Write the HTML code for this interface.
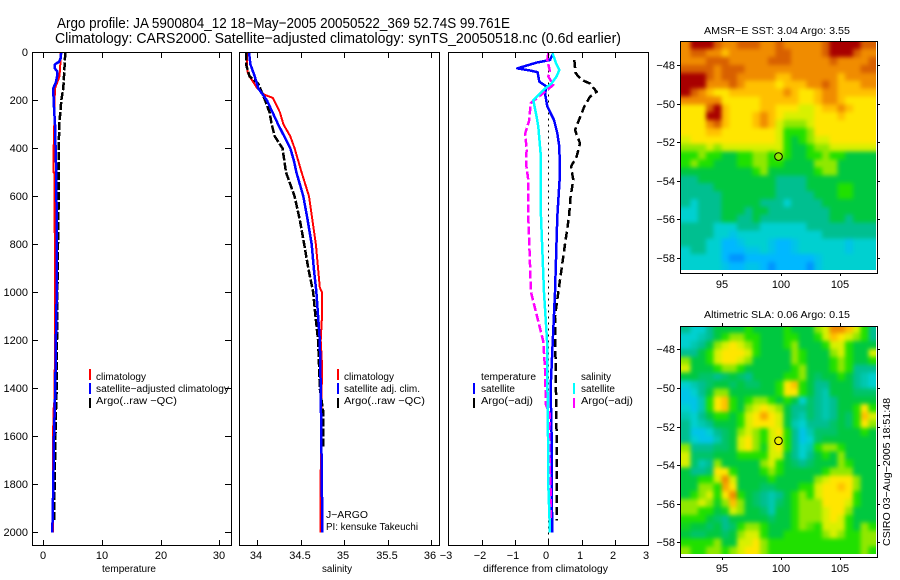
<!DOCTYPE html>
<html lang="en">
<head>
<meta charset="utf-8">
<title>Argo profile 5900804_12</title>
<style>
html,body{margin:0;padding:0;background:#fff;}
svg{display:block;font-family:"Liberation Sans",sans-serif;fill:#000;}
text{fill:#000;}
</style>
</head>
<body>
<svg id="chart" xmlns="http://www.w3.org/2000/svg" width="900" height="580" viewBox="0 0 900 580">
<defs>
<filter id="smooth" x="-5%" y="-5%" width="110%" height="110%" color-interpolation-filters="sRGB">
<feGaussianBlur stdDeviation="2.2"/>
<feComponentTransfer><feFuncA type="linear" slope="30" intercept="0"/></feComponentTransfer>
</filter>
<clipPath id="sst-clip"><rect x="680" y="41" width="196" height="229"/></clipPath>
<clipPath id="sla-clip"><rect x="680" y="326" width="196" height="228"/></clipPath>
</defs>
<rect x="0" y="0" width="900" height="580" fill="#fff"/>
<text x="57" y="28" font-size="15" textLength="453" lengthAdjust="spacingAndGlyphs">Argo profile: JA 5900804_12 18−May−2005 20050522_369 52.74S 99.761E</text>
<text x="55" y="43" font-size="15" textLength="566" lengthAdjust="spacingAndGlyphs">Climatology: CARS2000. Satellite−adjusted climatology: synTS_20050518.nc (0.6d earlier)</text>

<g id="panels"></g>
<g id="maps"></g>

<text x="102" y="572" font-size="10" textLength="54" lengthAdjust="spacingAndGlyphs">temperature</text>
<text x="322" y="572" font-size="10" textLength="30" lengthAdjust="spacingAndGlyphs">salinity</text>
<text x="483" y="572" font-size="10" textLength="125" lengthAdjust="spacingAndGlyphs">difference from climatology</text>

<g>
<rect x="89" y="369" width="2" height="11" fill="#f00"/>
<rect x="89" y="383" width="2" height="11" fill="#00f"/>
<rect x="89" y="398" width="2" height="10" fill="#000"/>
<text x="96" y="380" font-size="10" textLength="50" lengthAdjust="spacingAndGlyphs">climatology</text>
<text x="96" y="392" font-size="10" textLength="133" lengthAdjust="spacingAndGlyphs">satellite−adjusted climatology</text>
<text x="96" y="404" font-size="10" textLength="81" lengthAdjust="spacingAndGlyphs">Argo(..raw −QC)</text>
</g>
<g>
<rect x="337" y="369" width="2" height="11" fill="#f00"/>
<rect x="337" y="383" width="2" height="11" fill="#00f"/>
<rect x="337" y="398" width="2" height="10" fill="#000"/>
<text x="344" y="380" font-size="10" textLength="50" lengthAdjust="spacingAndGlyphs">climatology</text>
<text x="344" y="392" font-size="10" textLength="76" lengthAdjust="spacingAndGlyphs">satellite adj. clim.</text>
<text x="344" y="404" font-size="10" textLength="81" lengthAdjust="spacingAndGlyphs">Argo(..raw −QC)</text>
<text x="326" y="518" font-size="10" textLength="42" lengthAdjust="spacingAndGlyphs">J−ARGO</text>
<text x="326" y="530" font-size="10" textLength="92" lengthAdjust="spacingAndGlyphs">PI: kensuke Takeuchi</text>
</g>
<g>
<text x="481" y="380" font-size="10" textLength="55" lengthAdjust="spacingAndGlyphs">temperature</text>
<rect x="473" y="383" width="2" height="11" fill="#00f"/>
<text x="481" y="392" font-size="10" textLength="34" lengthAdjust="spacingAndGlyphs">satellite</text>
<rect x="473" y="398" width="2" height="10" fill="#000"/>
<text x="481" y="404" font-size="10" textLength="52" lengthAdjust="spacingAndGlyphs">Argo(−adj)</text>
<text x="581" y="380" font-size="10" textLength="30" lengthAdjust="spacingAndGlyphs">salinity</text>
<rect x="573" y="383" width="2" height="11" fill="#0ff"/>
<text x="581" y="392" font-size="10" textLength="34" lengthAdjust="spacingAndGlyphs">satellite</text>
<rect x="573" y="398" width="2" height="10" fill="#f0f"/>
<text x="581" y="404" font-size="10" textLength="52" lengthAdjust="spacingAndGlyphs">Argo(−adj)</text>
</g>

<text x="704" y="34" font-size="10.5" textLength="146" lengthAdjust="spacingAndGlyphs">AMSR−E SST: 3.04 Argo: 3.55</text>
<text x="704" y="318" font-size="10.5" textLength="146" lengthAdjust="spacingAndGlyphs">Altimetric SLA: 0.06 Argo: 0.15</text>
<text transform="translate(890,546) rotate(-90)" x="0" y="0" font-size="10.5" textLength="148" lengthAdjust="spacingAndGlyphs">CSIRO 03−Aug−2005 18:51:48</text>
</svg>

<script>
// Depth ticks and labels
const depthTicks = [0, 200, 400, 600, 800, 1000, 1200, 1400, 1600, 1800, 2000];
const tempTicks = [0, 10, 20, 30];
const salTicks = [34, 34.5, 35, 35.5, 36];
const salTickLabels = ['34', '34.5', '35', '35.5', '36'];
const diffTicks = [-3, -2, -1, 0, 1, 2, 3];

// Temperature panel
const tempClimDepth = [0, 50, 100, 140, 150, 200, 300, 350, 500, 501, 1000, 1300, 1450, 1500, 1900, 2000];
const tempClimValues = [3.0, 2.95, 2.8, 2.2, 2.05, 1.98, 1.93, 1.85, 1.76, 1.95, 2.04, 2.0, 1.95, 1.76, 1.7, 1.68];
const tempSatDepth = [0, 25, 40, 50, 65, 80, 100, 125, 150, 200, 300, 400, 500, 800, 1000, 1200, 1400, 1600, 1800, 2000];
const tempSatValues = [3.1, 3.0, 2.7, 2.05, 1.95, 2.44, 2.4, 2.2, 1.76, 1.8, 2.04, 2.15, 2.27, 2.35, 2.33, 2.2, 2.1, 1.87, 1.76, 1.58];
const tempArgoDepth = [0, 100, 150, 200, 300, 400, 600, 800, 1000, 1200, 1400, 1500, 1700, 1950];
const tempArgoValues = [3.8, 3.58, 3.45, 3.12, 2.78, 2.67, 2.67, 2.55, 2.45, 2.38, 2.33, 2.2, 2.04, 1.87];

// Salinity panel
const salClimDepth = [0, 80, 100, 150, 175, 190, 250, 300, 350, 400, 500, 600, 800, 980, 1000, 1100, 1200, 1300, 1900, 2000];
const salClimValues = [33.88, 33.885, 33.91, 34.0, 34.07, 34.18, 34.26, 34.3, 34.38, 34.43, 34.51, 34.595, 34.675, 34.72, 34.745, 34.745, 34.73, 34.745, 34.725, 34.725];
const salSatDepth = [0, 50, 100, 150, 200, 300, 400, 450, 500, 600, 700, 800, 900, 1000, 1100, 1200, 1400, 1700, 2000];
const salSatValues = [33.905, 33.92, 33.97, 34.01, 34.11, 34.24, 34.38, 34.42, 34.45, 34.53, 34.58, 34.626, 34.65, 34.68, 34.7, 34.72, 34.73, 34.74, 34.75];
const salArgoDepth = [0, 50, 100, 130, 200, 250, 300, 350, 400, 500, 600, 700, 800, 900, 1000, 1100, 1200, 1300, 1400, 1500, 1650];
const salArgoValues = [33.87, 33.87, 33.91, 34.01, 34.09, 34.14, 34.166, 34.2, 34.29, 34.33, 34.43, 34.49, 34.54, 34.587, 34.644, 34.67, 34.7, 34.71, 34.72, 34.76, 34.76];

// Difference panel
const zeroLineDepth = [0, 2050];
const zeroLineValues = [0, 0];
const diffTempSatDepth = [4, 32, 43, 67, 76, 83, 122, 143, 171, 226, 282, 337, 393, 504, 685, 1000, 1400, 1600, 1800, 2000];
const diffTempSatValues = [0.15, 0.05, -0.35, -0.93, -0.55, -0.32, -0.27, -0.05, -0.1, -0.03, 0.17, 0.27, 0.33, 0.35, 0.27, 0.2, 0.07, 0.1, 0.1, 0.12];
const diffTempArgoDepth = [32, 87, 115, 130, 164, 185, 226, 289, 324, 379, 435, 476, 532, 601, 685, 800, 1000, 1100, 1300, 1500, 1600, 1950];
const diffTempArgoValues = [0.78, 0.82, 1.0, 1.25, 1.45, 1.25, 1.08, 0.9, 0.8, 0.95, 0.85, 0.68, 0.75, 0.67, 0.62, 0.5, 0.3, 0.2, 0.22, 0.24, 0.25, 0.25];
const diffSalSatDepth = [4, 46, 73, 101, 129, 157, 199, 268, 310, 421, 685, 1000, 1200, 1337, 1600, 1800, 2000];
const diffSalSatValues = [0.13, 0.23, 0.33, 0.25, 0.1, -0.15, -0.45, -0.35, -0.3, -0.23, -0.22, -0.13, -0.04, -0.03, -0.01, 0, 0.05];
const diffSalArgoDepth = [4, 32, 80, 101, 136, 164, 212, 282, 337, 407, 462, 532, 685, 1000, 1205, 1320, 1470, 1505, 1665, 1830, 1950];
const diffSalArgoValues = [0, -0.03, 0.05, 0, 0.15, -0.1, -0.53, -0.57, -0.69, -0.65, -0.67, -0.6, -0.6, -0.52, -0.15, -0.1, -0.07, 0.04, 0.03, 0.07, 0.07];

// Maps: colour-scale level per cell, north to south
const lonTicks = [95, 100, 105];
const latTicks = [-48, -50, -52, -54, -56, -58];
const argoLon = [99.76];
const argoLat = [-52.74];
const sstGrid = [
[10,12,12,12,11,10,10,11,11,11,10,10,11,10,10,10,10,10,11,12,12,12,12,11,11],
[10,11,11,10,10,9,10,10,10,10,10,10,11,11,10,10,10,10,11,12,12,12,11,10,10],
[10,10,10,11,11,11,10,10,10,10,10,11,11,11,10,10,10,10,10,11,10,10,10,10,11],
[11,11,11,11,10,11,11,11,10,10,10,10,10,10,10,10,10,10,10,10,10,10,10,11,11],
[12,12,12,11,10,11,11,10,10,10,10,10,9,9,10,10,10,10,10,10,9,10,10,10,10],
[12,12,12,10,10,10,11,10,9,9,9,9,8,9,9,9,10,10,11,10,9,9,9,10,10],
[12,11,10,9,8,8,9,9,9,9,9,9,9,10,9,8,8,9,10,10,9,9,9,9,9],
[10,10,10,10,10,8,8,8,8,8,9,9,9,9,9,8,8,9,10,10,9,8,8,8,8],
[8,8,8,11,12,9,8,8,8,8,9,9,8,8,8,7,7,8,9,9,10,9,8,8,8],
[8,8,8,12,12,9,8,8,8,9,10,9,8,7,7,7,7,8,8,8,9,8,8,8,8],
[8,8,8,10,11,9,8,8,8,9,10,9,7,6,6,6,7,8,8,8,8,8,8,8,8],
[8,8,8,9,9,8,8,8,8,8,8,8,7,5,5,5,6,8,8,8,8,8,8,8,8],
[7,8,8,8,8,8,8,8,8,8,8,8,7,5,4,5,6,7,7,8,8,8,8,8,8],
[6,6,6,7,6,7,7,7,7,7,7,7,7,5,4,4,5,6,6,7,7,7,7,7,7],
[5,5,6,5,5,4,4,5,5,6,6,5,6,5,4,4,5,5,6,5,5,4,4,4,4],
[5,6,5,5,4,4,4,5,5,6,6,5,5,4,4,4,4,6,6,6,4,4,4,4,4],
[4,4,4,4,4,4,4,4,4,5,6,4,4,4,4,4,4,5,6,6,4,4,4,4,4],
[3,3,4,4,4,4,4,4,4,4,4,4,3,3,3,3,4,4,4,4,4,4,4,4,4],
[3,3,3,3,4,4,4,4,4,4,4,4,3,3,3,3,4,4,4,4,5,5,4,4,4],
[3,3,3,3,3,4,4,4,4,4,4,4,3,3,3,3,3,4,4,4,5,5,4,4,4],
[3,2,3,3,3,4,4,4,4,4,3,3,3,2,3,3,3,3,4,4,4,4,4,4,4],
[2,2,3,3,3,4,4,4,3,4,4,3,3,3,3,3,3,3,3,4,4,4,4,4,4],
[2,2,3,3,3,4,4,3,3,4,3,3,3,3,3,3,3,3,3,4,4,3,4,4,4],
[3,3,3,3,2,2,2,3,3,3,2,2,2,2,2,2,3,3,3,3,3,3,3,3,3],
[3,3,3,3,2,2,1.5,2,2,2,2,2,2,2,2,2,2,2,3,3,3,3,3,3,3],
[3,3,3,2,2,1,1,1.5,2,2,2,1.5,1,1,1.5,2,2,2,2,2,2,1.5,2,2,2],
[2,3,3,2,2,1,1,1,1.5,1.5,2,1.5,1,1,1.5,2,2,2,2,2,2,1.5,2,2,2],
[2,2,2,2,2,1,0.5,0.5,1,1,1,1,1,1,1,1,1,1.5,2,2,2,2,2,2,2],
[2,2,2,2,2,1.5,1,1,1.5,1.5,1,0.5,1,1,1,1,0.5,1.5,2,2,2,2,2,2,2]
];
const slaGrid = [
[3,2,2,3,4,4,4,4,5,4,4,4,4,5,4,4,4,6,7,10,10,9,7,5,3],
[2,2,2.5,3,4,5,6,6,5,5,4,4,4,5,5,4,4,5,7,9,8,7,6,5,3],
[2,2.5,3,4,6,7,8,7,6,5,4,4,4,5,6,4,4,4,5,7,7,5,4,4,4],
[3,3,4,5,7,8,8,8,7,5,4,4,4,4,6,5,4,4,4,6,7,5,4,4,7],
[6,4,4,5,7,8,8,7,6,4,4,4,4,4,6,5,4,4,4,5,6,5,4,4,5],
[7,4,4,4,5,6,6,5,4,4,4,4,4,4,5,6,4,4,4,5,6,5,3,3,3],
[4,4,3.5,3.5,3,3.5,4,3.5,3,4,4,4,4,5,5,6,4,3.5,4,4,5,4,3,2.5,2],
[2,2.5,3,3.5,4,4,3.5,4,3.5,3.5,4,4,5,8,9,5,4,3,3,4,4,4,3,2.5,2],
[1.5,2,3,4,6,6,4,4,4,4,4,4,5,8,8,5,4,3,2.5,4,4,4,3.5,3.5,3.5],
[1.5,1.5,2.5,5,8,9,5,4,5,6,6,5,4,5,4,2,3.5,3,2.5,3,4,4,4,4,4],
[2,1.5,2.5,5,8,9,5,4,6,7,8,7,6,4,3,3,3.5,3,2.5,3,4,4,5,8,5],
[2.5,2,3,4,5,5,4,5,7,8,9.5,8,7,4,3,2.5,3.5,3,2.5,3,4,3.5,5,9,7],
[3,2,2.5,3,4,4,4,5,7,8,8,8,7,4,2.5,2,3,3,3,3.5,4,3.5,5,8,6],
[3,1.5,1.5,2,3,3.5,4,6,7,6,5,7,8,5,3,1.5,2.5,3.5,3.5,3.5,4,4,4,5,4],
[3,2,1.5,1.5,2.5,3.5,4,7,8,6,5,7,7,5,3,1.5,2,3.5,4,4,4,4,4,4,4],
[6,3,3,3,3.5,3.5,4,7,8,6,4.5,7,8,5,3,2,2.5,5,6,6,5,4,4,4,4],
[7,3.5,3.5,3.5,4,4,4,5,5,5,5,7,7,4,3,2,3,4,5,4,6,4,4,4,4],
[7,3.5,2.5,3,6,4,4,4,4,4,6,7,5,4,3.5,3,3.5,4,4,4,6,5,4,4,4],
[4,3,3,3.5,8,8,5,4,4,4,5,6,5,4,4,4,4,4,5,6,6,6,4,4,4],
[4,4,5,5,7,10,7,4,4,4,4,5,4,4,4,4,4,6,7,8,8,8,6,4,4],
[4,4,6,6,5,9.5,8,4,4,4,3.5,3.5,4,4,4,5,5,7,8,8,9,8,6,4,4],
[4,5,6,7,5,8,10,5,4,3.5,3,2.5,3,4,5,6,5,7,8,8,8,8,5,4,4],
[6,6,7,6,4.5,6,9,6,4,3.5,3,2.5,3.5,4,5,6,6,6,8,8,8,7,5,4,4],
[6,6,5,5,4,4.5,7,6,4,4,3.5,2.5,4,4,5,6,6,6,7,8,8,6,4,4,4],
[5,5,5,4,3.5,3,4,4,4,4,4,3.5,4,4,5,6,6,6,7,8,7,5,4,4,4],
[4.5,4,4,3.5,4,3,3.5,5,6,6,5,4,4,4,5,6,5.5,5,7,7,7,5,4,6,5],
[4,3.5,3.5,4,4,3.5,4,6,7,7,5,4,4,5,5,5,5,5,6,7,6,5,5,6,6],
[5,5,5,5,6,4,4,7,7,8,6,5,5,5,5,5,5,5,5,5,5,5,5,6,6],
[6,5,5,6,6,5,6,7,8,8,6,5,5,5,5,5,5,5,5,5,5,5,5,6,5]
];
const colorStops = ['#0070ff','#00b8ff','#00d0d0','#00bf90','#00c840','#20e000','#90e800','#d8f000','#ffe600','#ffc000','#f08c00','#d86000','#a80000'];

const NS = 'http://www.w3.org/2000/svg';
const panelsGroup = document.getElementById('panels');
const mapsGroup = document.getElementById('maps');

function make(tag, parent, attrs) {
  const el = document.createElementNS(NS, tag);
  for (const k in attrs) el.setAttribute(k, attrs[k]);
  parent.appendChild(el);
  return el;
}
function linear(d0, d1, r0, r1) {
  return v => r0 + (v - d0) * (r1 - r0) / (d1 - d0);
}
function label(v) {
  return String(v).replace('-', '\u2212');
}

const depthY = linear(0, 2000, 52.3, 532.3);
const tempX = linear(0, 30, 43, 219.3);
const salX = linear(34, 36, 257.3, 431);
const diffX = linear(-3, 3, 448.3, 648.3);
const panelTop = 52, panelBottom = 545;

function tickLine(parent, x1, y1, x2, y2, name) {
  const t = make('line', parent, {x1: x1, y1: y1, x2: x2, y2: y2, stroke: '#000', 'stroke-width': 1, 'shape-rendering': 'crispEdges'});
  
  
  return t;
}
function tickText(parent, x, y, str, anchor, size, name) {
  const t = make('text', parent, {x: x, y: y, 'font-size': size, 'text-anchor': anchor});
  t.textContent = str;
  
  
  return t;
}
function drawFrame(parent, left, right, top, bottom, name) {
  const r = make('rect', parent, {x: left + 0.5, y: top + 0.5, width: right - left, height: bottom - top, fill: 'none', stroke: '#000', 'stroke-width': 1, 'shape-rendering': 'crispEdges'});
  
  
}
function drawSeries(parent, scaleX, depths, values, color, width, dash, name) {
  const pts = depths.map((d, i) => scaleX(values[i]).toFixed(1) + ',' + depthY(d).toFixed(1)).join(' ');
  const p = make('polyline', parent, {points: pts, fill: 'none', stroke: color, 'stroke-width': width, 'shape-rendering': 'crispEdges', 'stroke-linejoin': 'round'});
  if (dash) p.setAttribute('stroke-dasharray', dash);
  
  
}

// Temperature panel
const gTemp = make('g', panelsGroup, {});


drawSeries(gTemp, tempX, tempClimDepth, tempClimValues, '#f00', 2, null, 'temperature-climatology-line');
drawSeries(gTemp, tempX, tempArgoDepth, tempArgoValues, '#000', 2.5, '8 2', 'temperature-argo-line');
drawSeries(gTemp, tempX, tempSatDepth, tempSatValues, '#00f', 2.5, null, 'temperature-satellite-line');
drawFrame(gTemp, 32, 231, panelTop, panelBottom, 'temperature-plot-frame');
depthTicks.forEach(d => {
  const y = Math.round(depthY(d));
  tickLine(gTemp, 32, y + 0.5, 38, y + 0.5, 'depth-tick-left');
  tickLine(gTemp, 225, y + 0.5, 231, y + 0.5, 'depth-tick-right');
  tickText(gTemp, 28, y + 4, label(d), 'end', 11, 'depth-tick-label');
});
tempTicks.forEach(v => {
  const x = Math.round(tempX(v));
  tickLine(gTemp, x + 0.5, panelTop, x + 0.5, panelTop + 6, 'temperature-tick-top');
  tickLine(gTemp, x + 0.5, panelBottom - 5, x + 0.5, panelBottom, 'temperature-tick-bottom');
  tickText(gTemp, x, 559, label(v), 'middle', 11, 'temperature-tick-label');
});

// Salinity panel
const gSal = make('g', panelsGroup, {});


drawSeries(gSal, salX, salClimDepth, salClimValues, '#f00', 2, null, 'salinity-climatology-line');
drawSeries(gSal, salX, salArgoDepth, salArgoValues, '#000', 2.5, '8 2', 'salinity-argo-line');
drawSeries(gSal, salX, salSatDepth, salSatValues, '#00f', 2.5, null, 'salinity-satellite-line');
drawFrame(gSal, 239, 439, panelTop, panelBottom, 'salinity-plot-frame');
salTicks.forEach((v, i) => {
  const x = Math.round(salX(v));
  tickLine(gSal, x + 0.5, panelTop, x + 0.5, panelTop + 6, 'salinity-tick-top');
  tickLine(gSal, x + 0.5, panelBottom - 5, x + 0.5, panelBottom, 'salinity-tick-bottom');
  tickText(gSal, x - 1, 559, salTickLabels[i], 'middle', 11, 'salinity-tick-label');
});

// Difference panel
const gDiff = make('g', panelsGroup, {});


drawSeries(gDiff, diffX, zeroLineDepth, zeroLineValues, '#000', 1, '2 4', 'zero-reference-line');
drawSeries(gDiff, diffX, diffTempArgoDepth, diffTempArgoValues, '#000', 2.5, '8 4', 'temperature-argo-difference-line');
drawSeries(gDiff, diffX, diffTempSatDepth, diffTempSatValues, '#00f', 2.5, null, 'temperature-satellite-difference-line');
drawSeries(gDiff, diffX, diffSalArgoDepth, diffSalArgoValues, '#f0f', 2.5, '8 3', 'salinity-argo-difference-line');
drawSeries(gDiff, diffX, diffSalSatDepth, diffSalSatValues, '#0ff', 2.5, null, 'salinity-satellite-difference-line');
drawFrame(gDiff, 448, 648, panelTop, panelBottom, 'difference-plot-frame');
diffTicks.forEach(v => {
  const x = Math.round(diffX(v));
  if (v > -3 && v < 3) {
    tickLine(gDiff, x + 0.5, panelTop, x + 0.5, panelTop + 6, 'difference-tick-top');
    tickLine(gDiff, x + 0.5, panelBottom - 5, x + 0.5, panelBottom, 'difference-tick-bottom');
  }
  tickText(gDiff, x - 2, 559, label(v), 'middle', 11, 'difference-tick-label');
});

// Colour scale
function hexToRgb(h) {
  return [parseInt(h.slice(1, 3), 16), parseInt(h.slice(3, 5), 16), parseInt(h.slice(5, 7), 16)];
}
function levelColor(v) {
  const c = Math.max(0, Math.min(colorStops.length - 1, v));
  const i = Math.min(colorStops.length - 2, Math.floor(c));
  const f = c - i;
  const a = hexToRgb(colorStops[i]), b = hexToRgb(colorStops[i + 1]);
  return 'rgb(' + a.map((q, k) => Math.round(q + (b[k] - q) * f)).join(',') + ')';
}

// Maps
const mapLonX = linear(95, 105, 722.3, 840.3);
const lonStart = 91.65, lonEnd = 108.03, latStart = -46.75, latEnd = -58.62;

function drawMap(grid, name, clipId, y48, y58, frameTop, frameBottom, tickBase, markerLevel) {
  const mapLatY = linear(-48, -58, y48, y58);
  const g = make('g', mapsGroup, {});
  
  
  const clipGroup = make('g', g, {'clip-path': 'url(#' + clipId + ')'});
  
  
  const cellGroup = make('g', clipGroup, {filter: 'url(#smooth)'});
  
  
  const rows = grid.length;
  grid.forEach((row, r) => {
    const cols = row.length;
    row.forEach((v, c) => {
      const lon0 = lonStart + (lonEnd - lonStart) * c / cols;
      const lon1 = lonStart + (lonEnd - lonStart) * (c + 1) / cols;
      const lat0 = latStart + (latEnd - latStart) * r / rows;
      const lat1 = latStart + (latEnd - latStart) * (r + 1) / rows;
      const cell = make('rect', cellGroup, {
        x: mapLonX(lon0).toFixed(2), y: mapLatY(lat0).toFixed(2),
        width: (mapLonX(lon1) - mapLonX(lon0) + 0.6).toFixed(2),
        height: (mapLatY(lat1) - mapLatY(lat0) + 0.6).toFixed(2),
        fill: levelColor(v), 'shape-rendering': 'crispEdges'
      });
      
      
    });
  });
  drawFrame(g, 680, 877, frameTop, frameBottom, name + '-frame');
  lonTicks.forEach(lon => {
    const x = Math.round(mapLonX(lon));
    tickLine(g, x + 0.5, frameTop - 3, x + 0.5, frameTop, 'longitude-tick-top');
    tickLine(g, x + 0.5, frameBottom, x + 0.5, frameBottom + 3, 'longitude-tick-bottom');
    tickText(g, x, tickBase, label(lon), 'middle', 11, 'longitude-tick-label');
  });
  latTicks.forEach(lat => {
    const y = Math.round(mapLatY(lat));
    tickLine(g, 677, y + 0.5, 680, y + 0.5, 'latitude-tick-left');
    tickLine(g, 877, y + 0.5, 880, y + 0.5, 'latitude-tick-right');
    tickText(g, 675, y + 4, label(lat), 'end', 11, 'latitude-tick-label');
  });
  const marker = make('circle', g, {cx: mapLonX(argoLon[0]).toFixed(1), cy: mapLatY(argoLat[0]).toFixed(1), r: 3.8, fill: levelColor(markerLevel), stroke: '#000', 'stroke-width': 1});
  
  
}
drawMap(sstGrid, 'sst-map', 'sst-clip', 65.3, 258, 41, 273, 288, 6);
drawMap(slaGrid, 'sla-map', 'sla-clip', 349.3, 542.3, 326, 557, 572, 7.5);
</script>
</body>
</html>
